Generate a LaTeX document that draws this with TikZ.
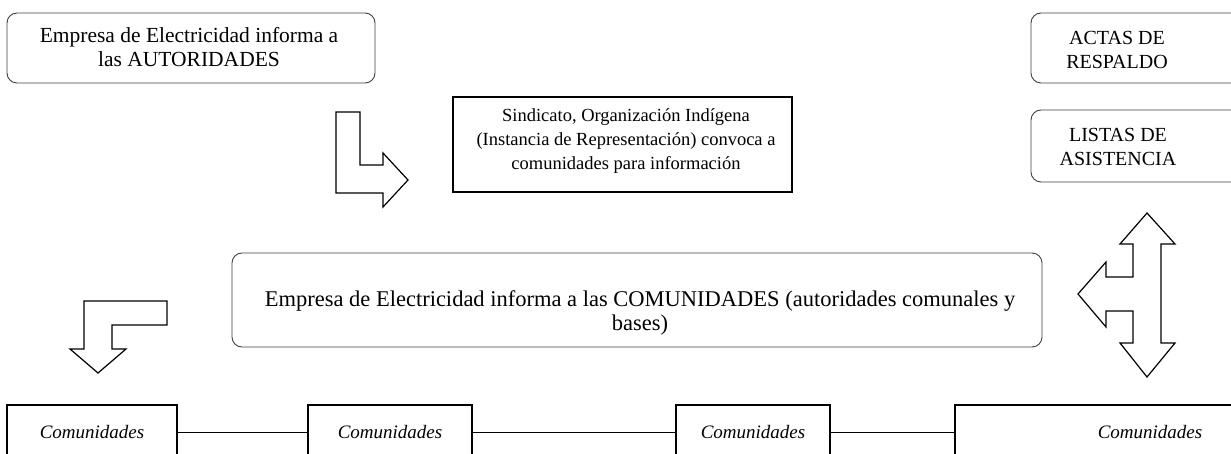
\documentclass[tikz,border=0pt]{standalone}
\usepackage{fontspec}
\setmainfont{Liberation Serif}
\begin{document}
\begin{tikzpicture}[x=1pt,y=-1pt,
  rbox/.style={draw=black!75, line width=0.9pt, rounded corners=10pt, inner sep=0pt},
  sbox/.style={draw=black, line width=1.8pt, inner sep=0pt},
  txt/.style={align=center, font=\fontsize{21.5}{24.5}\selectfont, inner sep=0pt},
  stxt/.style={align=center, font=\fontsize{18.5}{24}\selectfont, inner sep=0pt},
  rtxt/.style={align=center, font=\fontsize{20}{24}\selectfont, inner sep=0pt},
  mtxt/.style={align=center, font=\fontsize{22.5}{24}\selectfont, inner sep=0pt},
  ctxt/.style={font=\fontsize{19}{22}\selectfont\itshape, inner sep=0pt},
  barrow/.style={draw=black, line width=1.2pt, line join=miter},
  link/.style={draw=black, line width=1.5pt}]
\useasboundingbox (0,0) rectangle (1231,454);
% top-left box
\node[rbox, minimum width=368pt, minimum height=70pt] (aut) at (191,48) {};
\node[txt] (autt) at (189,47) {Empresa de Electricidad informa a\\las AUTORIDADES};
% right boxes
\node[rbox, minimum width=214pt, minimum height=70pt] (actas) at (1138,48) {};
\node[rtxt] (actast) at (1117,50) {ACTAS DE\\RESPALDO};
\node[rbox, minimum width=214pt, minimum height=72pt] (listas) at (1138,146) {};
\node[rtxt] (listast) at (1118,147) {LISTAS DE\\ASISTENCIA};
% sindicato box
\node[sbox, minimum width=339pt, minimum height=95pt] (sind) at (622.5,144.5) {};
\node[stxt] (sindt) at (626,141.5) {Sindicato, Organización Indígena\\(Instancia de Representación) convoca a\\comunidades para información};
% main box
\node[rbox, minimum width=810pt, minimum height=94pt] (com) at (637,300) {};
\node[mtxt] (comt) at (640,313) {Empresa de Electricidad informa a las COMUNIDADES (autoridades comunales y\\bases)};
% bottom boxes
\node[sbox, minimum width=170pt, minimum height=55pt] (c1) at (92,432.5) {};
\node[ctxt] at (92,432) {Comunidades};
\node[sbox, minimum width=164pt, minimum height=55pt] (c2) at (390,432.5) {};
\node[ctxt] at (390,432) {Comunidades};
\node[sbox, minimum width=154pt, minimum height=55pt] (c3) at (753,432.5) {};
\node[ctxt] at (753,432) {Comunidades};
\node[sbox, minimum width=290pt, minimum height=55pt] (c4) at (1100,432.5) {};
\node[ctxt] at (1150,432) {Comunidades};
\draw[link] (c1.east) -- (c2.west);
\draw[link] (c2.east) -- (c3.west);
\draw[link] (c3.east) -- (c4.west);
% block arrows
\draw[barrow] (336,112) -- (360,112) -- (360,165) -- (383,165) -- (383,153) -- (408,180)
  -- (383,207) -- (383,193) -- (336,193) -- cycle;
\draw[barrow] (167,301) -- (84,301) -- (84,349) -- (70,349) -- (98,373) -- (126,349)
  -- (112,349) -- (112,325) -- (167,325) -- cycle;
\draw[barrow] (1147,213) -- (1175,244) -- (1161,244) -- (1161,343) -- (1175,343) -- (1147,377)
  -- (1120,343) -- (1133,343) -- (1133,311) -- (1106,311) -- (1106,327) -- (1078,294)
  -- (1106,262) -- (1106,277) -- (1133,277) -- (1133,244) -- (1120,244) -- cycle;
\end{tikzpicture}
\end{document}
